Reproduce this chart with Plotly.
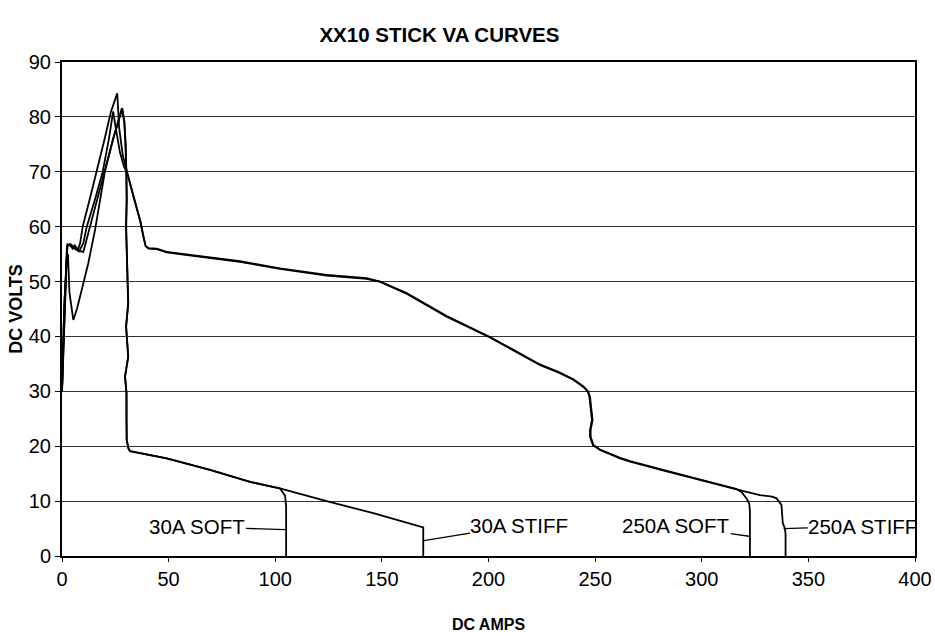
import plotly.graph_objects as go

# ---- data ----
amps_250_stiff = [0, 1.2, 2.3, 3.5, 5, 6, 7.5, 8.5, 9.7, 13, 16.3, 20, 23, 25.9,
                  26.8, 28.5, 30.6, 33.5, 36.6, 38.3, 39.2, 40.5, 44.4, 49.1, 60, 83.5,
                  102.2, 124.1, 142.9, 149.1, 161.6, 180.4, 200.7, 224.1, 233.5, 239.8,
                  244.5, 246.8, 247.6, 248.4, 248.8, 247.9, 247.9, 249.2, 252.3, 261.7,
                  266.4, 283.6, 299.2, 316.4, 321, 327.3, 333, 335.1, 336.7, 337.4,
                  337.7, 338, 339, 339.3, 339.3]
volts_250_stiff = [30, 45, 56.5, 56.8, 56, 56.6, 55.8, 57, 60, 65, 70, 76, 81, 84.3,
                   78, 73, 69.8, 65.5, 61.2, 58, 56.5, 56, 55.9, 55.3, 54.8, 53.6,
                   52.3, 51.1, 50.5, 50, 47.8, 43.6, 39.8, 34.8, 33.3, 32.1,
                   30.8, 29.9, 29, 26.6, 24.8, 23, 21.7, 20.2, 19.3, 17.8,
                   17.2, 15.4, 13.8, 12.1, 11.7, 11.1, 10.8, 10.5, 9.8, 9.3,
                   7.5, 6, 5, 4, 0]

amps_250_soft = [0, 1, 2.6, 4, 6, 8, 10, 11.6, 15.5, 19.1, 22, 24,
                 25.2, 27.2, 29, 30.8, 33.6, 36.7, 38.4, 39.3, 40.7, 44.4, 49.1, 60, 83.5,
                 102.2, 124.1, 142.9, 149.1, 161.6, 180.4, 200.7, 224.1, 233.5, 239.8,
                 244.5, 246.6, 247.3, 248.1, 248.5, 247.6, 247.6, 249, 252.3, 261.7,
                 266.4, 283.6, 299.2, 316.4, 319, 321, 322.3, 322.6, 322.6]
volts_250_soft = [30, 45, 56.8, 56.5, 56, 55.5, 57, 60, 65, 70, 76, 81,
                  78, 73.5, 71, 69.5, 65.3, 61, 57.8, 56.4, 56.1, 56.0, 55.4, 54.9, 53.7,
                  52.4, 51.2, 50.6, 50, 47.9, 43.7, 39.9, 34.9, 33.4, 32.2,
                  30.9, 30, 29, 26.6, 24.8, 23, 21.7, 20.2, 19.4, 17.9,
                  17.3, 15.5, 13.9, 12.2, 11.5, 10.5, 9.5, 8, 0]

amps_30_soft = [0, 1.2, 2.2, 2.8, 3.5, 5.3, 7, 9.2, 12.3, 15.5, 18.6, 20.1, 24, 28.3,
                29.3, 29.8, 30.2, 30.3, 30.0, 30.4, 31.1, 30.0, 31.1, 29.5, 30.2, 30.2,
                30.3, 31.1, 31.9, 49.1, 69.4, 88.2, 102.2, 104.6, 105.1, 105.1]
volts_30_soft = [30, 45, 54, 55, 48, 43, 45, 48.4, 53.3, 59.4, 66.7, 70, 76, 81.5,
                 79, 75, 70, 65, 60, 55, 46, 41.8, 36.3, 32.7, 29.7, 25,
                 21.1, 19.6, 19.1, 17.8, 15.7, 13.5, 12.3, 11, 9, 0]

amps_30_stiff = [0, 1.1, 2.5, 4, 6, 8, 10, 13.1, 16.5, 20.1, 24, 28.1,
                 29.2, 29.9, 30.3, 30.4, 30.1, 30.5, 31.0, 30.1, 31.0, 29.6, 30.3, 30.3,
                 30.4, 31.2, 31.9, 49.1, 69.4, 88.2, 102.2, 124.1, 146, 169.4, 169.4]
volts_30_stiff = [30, 46, 56.6, 56.8, 56.2, 55.6, 55.4, 60, 65, 70, 76, 81.6,
                  79, 75, 70, 65, 60, 55, 46, 41.8, 36.3, 32.7, 29.7, 25,
                  21.1, 19.6, 19.1, 17.8, 15.7, 13.5, 12.3, 10, 7.8, 5.2, 0]

series = [
    ("250A STIFF", amps_250_stiff, volts_250_stiff),
    ("250A SOFT", amps_250_soft, volts_250_soft),
    ("30A SOFT", amps_30_soft, volts_30_soft),
    ("30A STIFF", amps_30_stiff, volts_30_stiff),
]

# label text: (text, arrow tip amps, arrow tip volts, text centre amps, text centre volts)
labels = [
    ("30A SOFT", 104.6, 4.8, 63.5, 5.3),
    ("30A STIFF", 169.7, 2.8, 214.5, 5.6),
    ("250A SOFT", 322.2, 3.6, 288.0, 5.5),
    ("250A STIFF", 338.4, 5.0, 375.5, 5.4),
]

x_ticks = [0, 50, 100, 150, 200, 250, 300, 350, 400]
y_ticks = [0, 10, 20, 30, 40, 50, 60, 70, 80, 90]

FONT = "Liberation Sans, Arial, sans-serif"

fig = go.Figure()
for name, xs, ys in series:
    fig.add_trace(go.Scatter(x=xs, y=ys, mode="lines", name=name,
                             line=dict(color="black", width=1.8),
                             showlegend=False, hoverinfo="skip"))

for text, tx, ty, cx, cy in labels:
    fig.add_annotation(x=tx, y=ty, ax=cx, ay=cy, xref="x", yref="y",
                       axref="x", ayref="y", text=text, showarrow=True,
                       arrowhead=0, arrowwidth=1.3, arrowcolor="black",
                       standoff=0, startstandoff=0, borderpad=0,
                       font=dict(family=FONT, size=20.5, color="black"))

fig.update_layout(
    width=935, height=636,
    margin=dict(l=62, r=20, t=62, b=80, autoexpand=False),
    paper_bgcolor="white", plot_bgcolor="white",
    font=dict(family=FONT, size=20, color="black"),
    title=dict(text="<b>XX10 STICK VA CURVES</b>", x=0.47, xref="container",
               xanchor="center", y=1 - 35 / 636, yanchor="middle",
               automargin=False,
               font=dict(family=FONT, size=20.5, color="black")),
)

fig.update_xaxes(range=[0, 400], tickvals=x_ticks, ticktext=[str(v) for v in x_ticks],
                 automargin=False,
                 showgrid=False, zeroline=False, showline=True, linecolor="black",
                 linewidth=2, mirror=True, ticks="outside", ticklen=4, tickwidth=1,
                 tickcolor="black", tickfont=dict(size=20),
                 title=dict(text="<b>DC AMPS</b>", font=dict(size=16), standoff=30))
fig.update_yaxes(range=[0, 90], tickvals=y_ticks, ticktext=[str(v) for v in y_ticks],
                 automargin=False,
                 showgrid=True, gridcolor="#333333", gridwidth=1, zeroline=False,
                 showline=True, linecolor="black", linewidth=2, mirror=True,
                 ticks="outside", ticklen=5, tickwidth=1, tickcolor="black",
                 tickfont=dict(size=20),
                 title=dict(text="<b>DC VOLTS</b>", font=dict(size=18), standoff=1))

fig.write_html("out.html", config={"displayModeBar": False},
               post_script="document.body.style.margin='0';document.body.style.overflow='hidden';")
